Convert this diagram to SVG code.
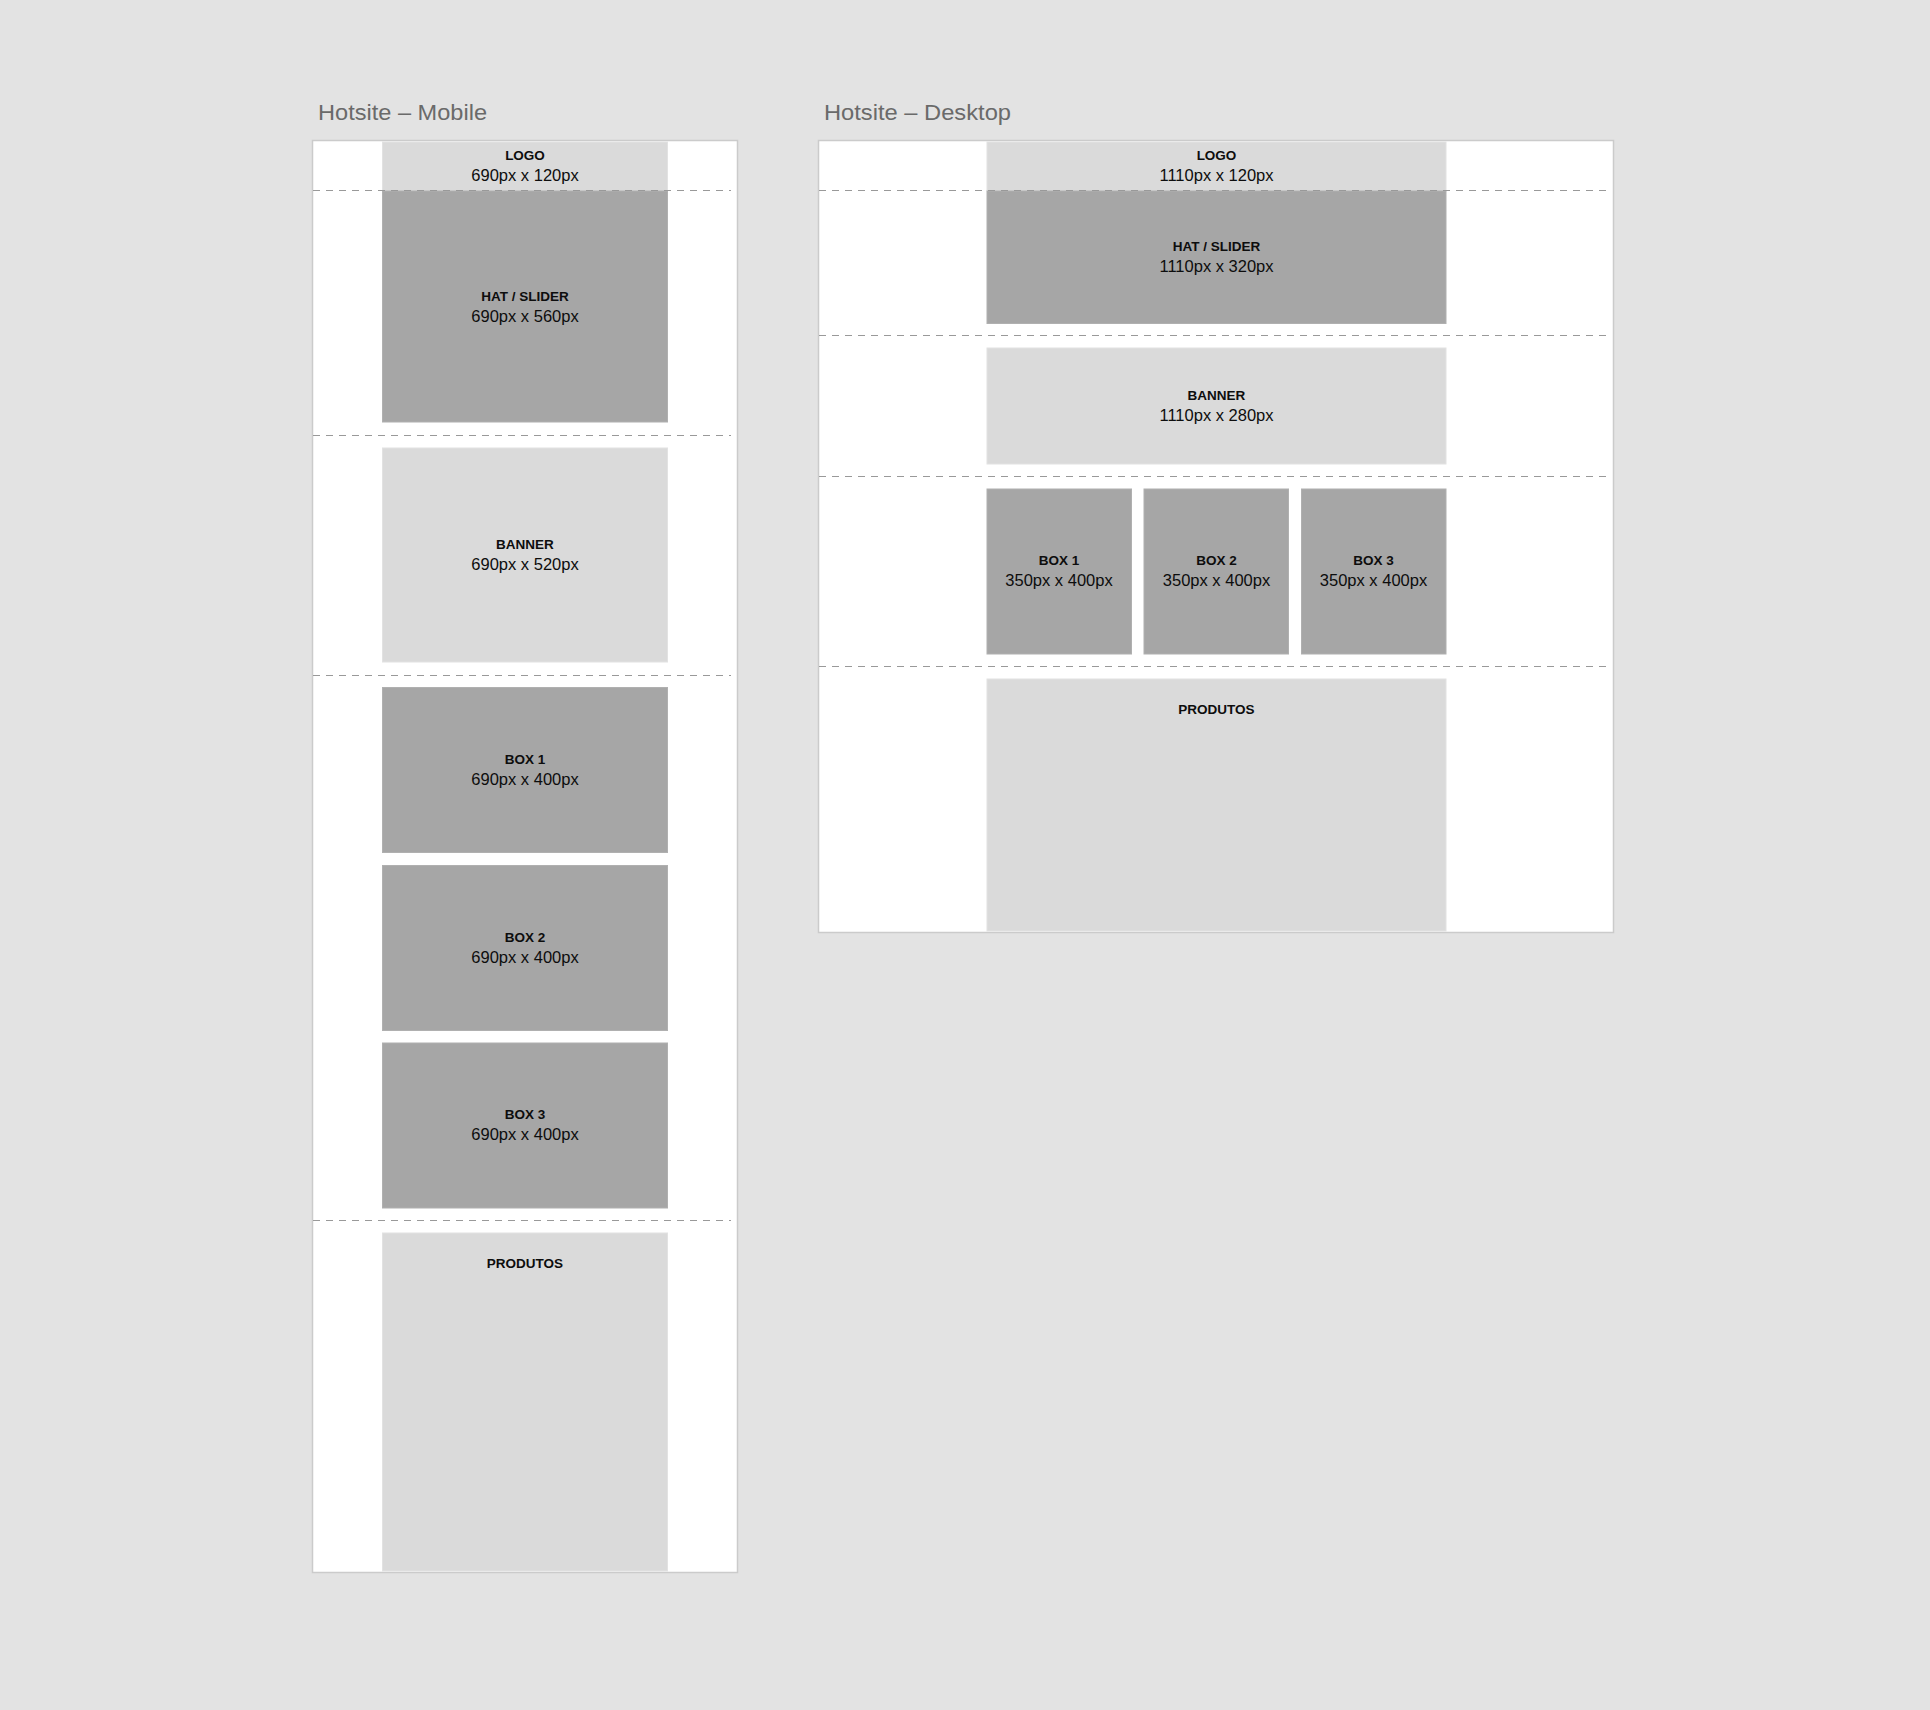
<svg xmlns="http://www.w3.org/2000/svg" width="1930" height="1710" viewBox="0 0 1930 1710">
  <style>
    .title { font-family: "Liberation Sans", Arial, sans-serif; font-size: 22px; fill: #6a6a6a; }
    .frame { fill: #ffffff; stroke: #cbcbcb; stroke-width: 1.5; }
    .light { fill: #dadada; stroke: #e2e2e2; stroke-width: 1; }
    .dark { fill: #a6a6a6; stroke: #b0b0b0; stroke-width: 1; }
    .name { font-family: "Liberation Sans", Arial, sans-serif; font-size: 13.5px; font-weight: bold; fill: #0d0d0d; text-anchor: middle; }
    .size { font-family: "Liberation Sans", Arial, sans-serif; font-size: 16.5px; fill: #0d0d0d; text-anchor: middle; }
    .divider { stroke: #999999; stroke-width: 1; stroke-dasharray: 7 6; fill: none; }
  </style>

  <rect x="0" y="0" width="1930" height="1710" fill="#e3e3e3"/>

  <!-- Mobile layout -->
  <g id="mobile">
    <text class="title" x="318" y="120" textLength="169" lengthAdjust="spacingAndGlyphs">Hotsite – Mobile</text>
    <rect id="mobile-frame" class="frame" x="312.5" y="140.5" width="425" height="1432"/>

    <g id="m-logo">
      <rect class="light" x="382.5" y="142" width="285" height="49" stroke="none"/>
      <text class="name" x="525" y="160">LOGO</text>
      <text class="size" x="525" y="181">690px x 120px</text>
    </g>
    <g id="m-hat">
      <rect class="dark" x="382.5" y="191" width="285" height="231"/>
      <text class="name" x="525" y="301">HAT / SLIDER</text>
      <text class="size" x="525" y="322">690px x 560px</text>
    </g>
    <g id="m-banner">
      <rect class="light" x="382.5" y="448" width="285" height="214"/>
      <text class="name" x="525" y="549">BANNER</text>
      <text class="size" x="525" y="570">690px x 520px</text>
    </g>
    <g id="m-box1">
      <rect class="dark" x="382.5" y="687.5" width="285" height="165"/>
      <text class="name" x="525" y="764">BOX 1</text>
      <text class="size" x="525" y="785">690px x 400px</text>
    </g>
    <g id="m-box2">
      <rect class="dark" x="382.5" y="865.5" width="285" height="165"/>
      <text class="name" x="525" y="942">BOX 2</text>
      <text class="size" x="525" y="963">690px x 400px</text>
    </g>
    <g id="m-box3">
      <rect class="dark" x="382.5" y="1043" width="285" height="165"/>
      <text class="name" x="525" y="1119">BOX 3</text>
      <text class="size" x="525" y="1140">690px x 400px</text>
    </g>
    <g id="m-produtos">
      <rect class="light" x="382.5" y="1233" width="285" height="338"/>
      <text class="name" x="525" y="1268">PRODUTOS</text>
    </g>
  </g>

  <!-- Desktop layout -->
  <g id="desktop">
    <text class="title" x="824" y="120" textLength="187" lengthAdjust="spacingAndGlyphs">Hotsite – Desktop</text>
    <rect id="desktop-frame" class="frame" x="818.5" y="140.5" width="795" height="792"/>

    <g id="d-logo">
      <rect class="light" x="987" y="142" width="459" height="49" stroke="none"/>
      <text class="name" x="1216.5" y="160">LOGO</text>
      <text class="size" x="1216.5" y="181">1110px x 120px</text>
    </g>
    <g id="d-hat">
      <rect class="dark" x="987" y="191" width="459" height="132.5"/>
      <text class="name" x="1216.5" y="251">HAT / SLIDER</text>
      <text class="size" x="1216.5" y="272">1110px x 320px</text>
    </g>
    <g id="d-banner">
      <rect class="light" x="987" y="348" width="459" height="116"/>
      <text class="name" x="1216.5" y="400">BANNER</text>
      <text class="size" x="1216.5" y="421">1110px x 280px</text>
    </g>
    <g id="d-box1">
      <rect class="dark" x="987" y="489" width="144.5" height="165"/>
      <text class="name" x="1059" y="565">BOX 1</text>
      <text class="size" x="1059" y="586">350px x 400px</text>
    </g>
    <g id="d-box2">
      <rect class="dark" x="1144" y="489" width="144.5" height="165"/>
      <text class="name" x="1216.5" y="565">BOX 2</text>
      <text class="size" x="1216.5" y="586">350px x 400px</text>
    </g>
    <g id="d-box3">
      <rect class="dark" x="1301.5" y="489" width="144.5" height="165"/>
      <text class="name" x="1373.5" y="565">BOX 3</text>
      <text class="size" x="1373.5" y="586">350px x 400px</text>
    </g>
    <g id="d-produtos">
      <rect class="light" x="987" y="679" width="459" height="252"/>
      <text class="name" x="1216.5" y="714">PRODUTOS</text>
    </g>
  </g>

  <!-- Section dividers -->
  <g id="connectors">
    <line class="divider" x1="313" y1="190.5" x2="731" y2="190.5"/>
    <line class="divider" x1="313" y1="435.5" x2="731" y2="435.5"/>
    <line class="divider" x1="313" y1="675.5" x2="731" y2="675.5"/>
    <line class="divider" x1="313" y1="1220.5" x2="731" y2="1220.5"/>
    <line class="divider" x1="819" y1="190.5" x2="1608" y2="190.5"/>
    <line class="divider" x1="819" y1="335.5" x2="1608" y2="335.5"/>
    <line class="divider" x1="819" y1="476.5" x2="1608" y2="476.5"/>
    <line class="divider" x1="819" y1="666.5" x2="1608" y2="666.5"/>
  </g>
</svg>
